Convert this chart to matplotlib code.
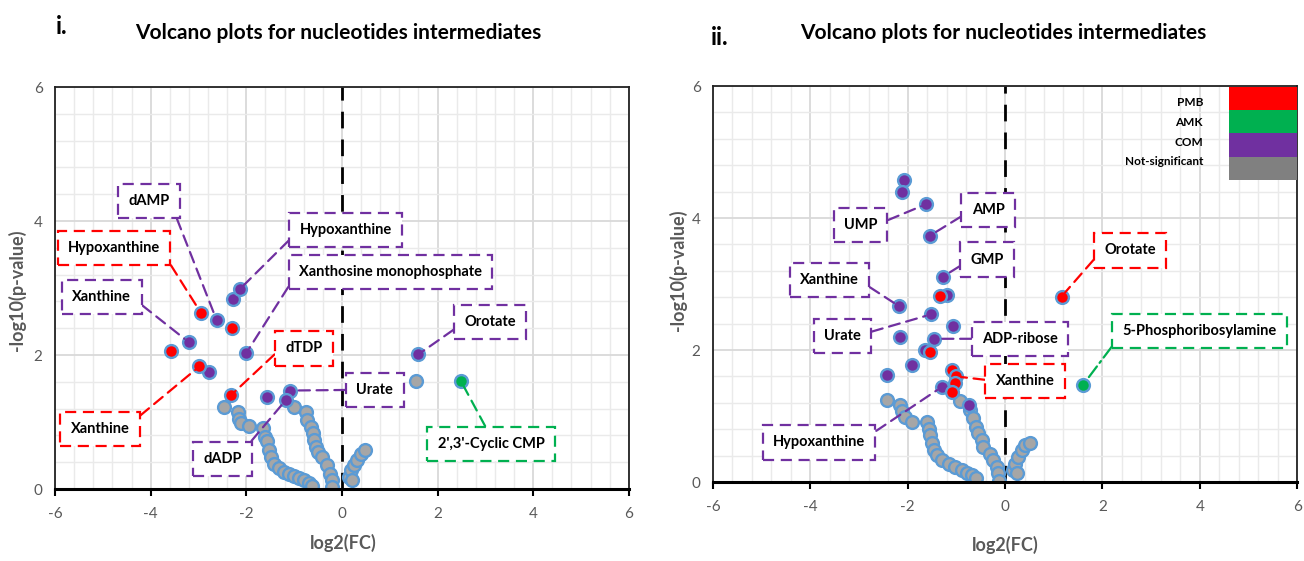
import matplotlib
matplotlib.use("Agg")
import matplotlib.pyplot as plt
from matplotlib.patches import Rectangle
from matplotlib.ticker import MultipleLocator

plt.rcParams['font.family'] = ['Lato', 'DejaVu Sans']
plt.rcParams['axes.unicode_minus'] = False

# ---- panel i data (log2 FC, -log10 p) ----
i_pmb_x = [-2.95, -2.30, -3.58, -2.98, -2.32]
i_pmb_y = [2.63, 2.41, 2.06, 1.83, 1.40]
i_com_x = [-2.62, -2.28, -2.14, -3.20, -2.00, -2.78, -1.56, -1.08, -1.17, 1.60]
i_com_y = [2.52, 2.83, 2.98, 2.19, 2.03, 1.74, 1.38, 1.47, 1.33, 2.01]
i_amk_x = [2.49]
i_amk_y = [1.61]
i_ns_x = [-2.46, -2.18, -2.15, -2.11, -1.94,
          -1.66, -1.60, -1.57, -1.53, -1.49, -1.42, -1.31, -1.21, -1.10, -1.00, -0.90, -0.79, -0.69, -0.62,
          -1.00, -0.76, -0.72, -0.65, -0.60, -0.58, -0.55, -0.49, -0.41, -0.31, -0.24, -0.20, -0.20,
          0.15, 0.20, 0.25, 0.32, 0.39, 0.49, 0.21, 1.56]
i_ns_y = [1.23, 1.15, 1.05, 0.98, 0.94,
          0.91, 0.78, 0.71, 0.58, 0.48, 0.38, 0.31, 0.26, 0.22, 0.19, 0.17, 0.13, 0.09, 0.04,
          1.23, 1.15, 1.03, 0.93, 0.83, 0.73, 0.63, 0.56, 0.48, 0.36, 0.23, 0.13, 0.03,
          0.18, 0.28, 0.36, 0.43, 0.53, 0.58, 0.13, 1.61]

# labels: (name, group, index into that group's arrays)
i_labels = [("dAMP", "com", 0), ("Hypoxanthine", "pmb", 0), ("Xanthine", "com", 3),
            ("Hypoxanthine", "com", 2), ("Xanthosine monophosphate", "com", 4),
            ("dTDP", "pmb", 4), ("Orotate", "com", 9), ("Urate", "com", 7),
            ("Xanthine", "pmb", 3), ("dADP", "com", 8), ("2',3'-Cyclic CMP", "amk", 0)]
i_label_pos = [(-4.04, 4.30), (-4.77, 3.60), (-5.02, 2.87), (0.08, 3.87), (1.02, 3.24),
               (-0.79, 2.10), (3.10, 2.49), (0.69, 1.48), (-5.06, 0.90), (-2.50, 0.45), (3.12, 0.67)]
# where the leader line leaves each box (fraction of box width, height)
i_label_rel = [(1, 0.6), (1, 0.5), (1, 0.5), (0, 0.5), (0, 0.65), (0, 0.8), (0, 0.5),
               (0, 0.5), (1, 0.8), (1, 0.95), (0.5, 1)]

# ---- panel ii data ----
ii_pmb_x = [-1.33, -1.55, -1.09, -1.01, -1.03, -1.09, 1.16]
ii_pmb_y = [2.82, 1.97, 1.70, 1.60, 1.50, 1.37, 2.81]
ii_com_x = [-2.07, -2.12, -1.62, -1.55, -1.28, -1.20, -2.17, -1.52, -1.07, -2.16, -1.47, -1.64,
            -1.92, -2.43, -1.30, -0.75]
ii_com_y = [4.58, 4.39, 4.21, 3.73, 3.11, 2.83, 2.66, 2.54, 2.37, 2.19, 2.17, 2.00,
            1.77, 1.62, 1.44, 1.17]
ii_amk_x = [1.60]
ii_amk_y = [1.47]
ii_ns_x = [-2.43, -2.16, -2.12, -2.05, -1.92,
           -1.61, -1.57, -1.54, -1.51, -1.47, -1.40, -1.30, -1.16, -1.03, -0.89, -0.79, -0.68, -0.60,
           -0.92, -0.72, -0.65, -0.60, -0.55, -0.48, -0.45, -0.31, -0.24, -0.17, -0.14, -0.12,
           0.17, 0.21, 0.27, 0.34, 0.41, 0.51, 0.24]
ii_ns_y = [1.24, 1.17, 1.07, 0.99, 0.91,
           0.91, 0.81, 0.71, 0.59, 0.48, 0.41, 0.33, 0.28, 0.23, 0.18, 0.13, 0.11, 0.06,
           1.22, 1.09, 0.97, 0.84, 0.74, 0.64, 0.53, 0.43, 0.33, 0.23, 0.13, 0.01,
           0.18, 0.28, 0.38, 0.48, 0.56, 0.59, 0.13]

ii_labels = [("UMP", "com", 2), ("AMP", "com", 3), ("GMP", "com", 4), ("Xanthine", "com", 6),
             ("Urate", "com", 7), ("ADP-ribose", "com", 10), ("Xanthine", "pmb", 3),
             ("Hypoxanthine", "com", 14), ("Orotate", "pmb", 6), ("5-Phosphoribosylamine", "amk", 0)]
ii_label_pos = [(-2.97, 3.89), (-0.35, 4.12), (-0.37, 3.37), (-3.61, 3.06), (-3.34, 2.21),
                (0.31, 2.17), (0.41, 1.53), (-3.82, 0.60), (2.57, 3.51), (4.00, 2.29)]
ii_label_rel = [(1, 0.55), (0, 0.5), (0, 0.5), (1, 0.5), (1, 0.6), (0, 0.5), (0, 0.5),
                (1, 0.8), (0, 0.7), (0, 0.4)]

legend_names = ["PMB", "AMK", "COM", "Not-significant"]

RED, GREEN, PURPLE, GREY = "#ff0000", "#00b050", "#7030a0", "#a6a6a6"
EDGE = "#5b9bd5"
colors = {"pmb": RED, "amk": GREEN, "com": PURPLE}

fig = plt.figure(figsize=(13.04, 5.61), dpi=100)
ax1 = fig.add_axes([0.0422, 0.1283, 0.440, 0.7166])
ax2 = fig.add_axes([0.5468, 0.1408, 0.4479, 0.7059])


def setup(ax):
    ax.set_xlim(-6, 6)
    ax.set_ylim(0, 6)
    ax.xaxis.set_major_locator(MultipleLocator(2))
    ax.yaxis.set_major_locator(MultipleLocator(2))
    ax.xaxis.set_minor_locator(MultipleLocator(0.4))
    ax.yaxis.set_minor_locator(MultipleLocator(0.4))
    ax.grid(which='minor', color='#eaeaea', lw=1.0)
    ax.grid(which='major', color='#d9d9d9', lw=1.3)
    ax.set_axisbelow(True)
    for s in ax.spines.values():
        s.set_color('#222222')
        s.set_linewidth(1.3)
    ax.spines['bottom'].set_linewidth(2.2)
    ax.spines['bottom'].set_color('black')
    ax.tick_params(axis='x', which='major', direction='out', length=5, width=1.5,
                   colors='black', labelcolor='#595959', labelsize=11, pad=8)
    ax.tick_params(axis='y', which='major', length=0, labelcolor='#595959', labelsize=11, pad=9)
    ax.tick_params(which='minor', length=0)
    ax.axvline(0, color='black', lw=2, ls=(0, (6, 4)), zorder=1.5)


def draw(ax, groups, labels, label_pos, label_rel):
    gx, gy = groups["ns"]
    ax.scatter(gx, gy, s=85, c=GREY, edgecolors=EDGE, linewidths=1.7, zorder=2)
    for key in ["com", "pmb", "amk"]:
        x, y = groups[key]
        ax.scatter(x, y, s=85, c=colors[key], edgecolors=EDGE, linewidths=1.7, zorder=3)
    for (name, key, idx), pos, rel in zip(labels, label_pos, label_rel):
        x, y = groups[key]
        c = colors[key]
        ls = (0, (6, 2, 1, 2)) if name == "5-Phosphoribosylamine" else (0, (5, 3))
        ax.annotate(name, xy=(x[idx], y[idx]), xytext=pos, ha='center', va='center',
                    fontsize=10.5, fontweight='bold', color='black', zorder=5,
                    bbox=dict(boxstyle='square,pad=0.7', fc='white', ec=c, lw=1.6, ls=(0, (5, 3))),
                    arrowprops=dict(arrowstyle='-', color=c, lw=1.6, ls=ls, relpos=rel,
                                    shrinkA=0, shrinkB=4))


setup(ax1)
setup(ax2)
draw(ax1, {"pmb": (i_pmb_x, i_pmb_y), "com": (i_com_x, i_com_y), "amk": (i_amk_x, i_amk_y),
           "ns": (i_ns_x, i_ns_y)}, i_labels, i_label_pos, i_label_rel)
draw(ax2, {"pmb": (ii_pmb_x, ii_pmb_y), "com": (ii_com_x, ii_com_y), "amk": (ii_amk_x, ii_amk_y),
           "ns": (ii_ns_x, ii_ns_y)}, ii_labels, ii_label_pos, ii_label_rel)

# table-like legend in panel ii
legend_colors = [RED, GREEN, PURPLE, "#808080"]
row_top = [0.9975, 0.939, 0.881, 0.821]
row_h = [0.0585, 0.058, 0.060, 0.058]
text_y = [0.958, 0.907, 0.857, 0.810]
for name, c, top, h, ty in zip(legend_names, legend_colors, row_top, row_h, text_y):
    ax2.add_patch(Rectangle((0.8836, top - h), 0.1164, h, transform=ax2.transAxes,
                            fc=c, ec='none', zorder=6))
    ax2.text(0.839, ty, name, transform=ax2.transAxes, ha='right', va='center',
             fontsize=8.5, fontweight='bold', color='black', zorder=6)

# titles and axis labels
fig.text(0.0425, 0.952, "i.", fontsize=17, fontweight='bold', va='center')
fig.text(0.259, 0.941, "Volcano plots for nucleotides intermediates", fontsize=15,
         fontweight='bold', ha='center', va='center')
fig.text(0.545, 0.934, "ii.", fontsize=17, fontweight='bold', va='center')
fig.text(0.769, 0.941, "Volcano plots for nucleotides intermediates", fontsize=15,
         fontweight='bold', ha='center', va='center')
for xx, yy in [(0.013, 0.483), (0.520, 0.519)]:
    fig.text(xx, yy, "-log10(p-value)", rotation=90, fontsize=13, fontweight='bold',
             color='#595959', ha='center', va='center')
for xx, yy in [(0.263, 0.032), (0.771, 0.0285)]:
    fig.text(xx, yy, "log2(FC)", fontsize=13, fontweight='bold', color='#595959',
             ha='center', va='center')

fig.savefig("out.png", dpi=100)
